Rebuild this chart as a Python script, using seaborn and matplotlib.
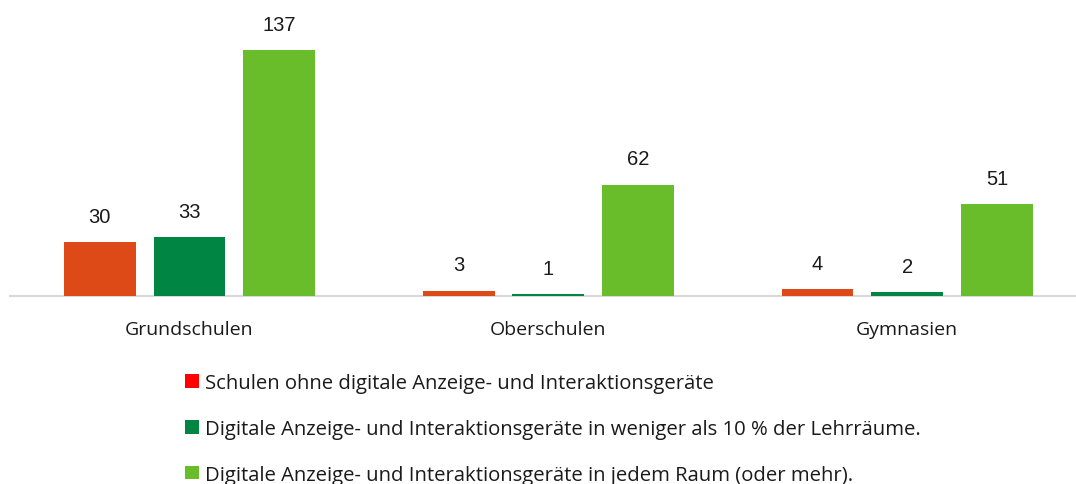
import pandas as pd
import seaborn as sns
import matplotlib.pyplot as plt
from matplotlib.patches import Patch

# DATA
schularten = ["Grundschulen", "Oberschulen", "Gymnasien"]
serien = [
    "Schulen ohne digitale Anzeige- und Interaktionsgeräte",
    "Digitale Anzeige- und Interaktionsgeräte in weniger als 10 % der Lehrräume.",
    "Digitale Anzeige- und Interaktionsgeräte in jedem Raum (oder mehr).",
]
ohne_geraete = [30, 3, 4]
unter_10_prozent = [33, 1, 2]
jeder_raum = [137, 62, 51]

bar_colors = ["#DD4A17", "#008542", "#6ABD2A"]
legend_colors = ["#FF0000", "#008542", "#6ABD2A"]

df = pd.DataFrame({
    "Schulart": schularten * 3,
    "Serie": [serien[0]] * 3 + [serien[1]] * 3 + [serien[2]] * 3,
    "Anzahl": ohne_geraete + unter_10_prozent + jeder_raum,
})

# VISUAL SETTINGS
sns.set_style("white")
plt.rcParams["font.family"] = ["Open Sans", "DejaVu Sans"]

fig = plt.figure(figsize=(10.76, 4.85), dpi=100)
ax = fig.add_axes([10 / 1076, 188 / 485, 1 - 10 / 1076, 290 / 485])

sns.barplot(
    data=df, x="Schulart", y="Anzahl", hue="Serie",
    order=schularten, hue_order=serien,
    palette=bar_colors, width=0.75, gap=0.2,
    saturation=1, legend=False, ax=ax,
)
for cont in ax.containers:
    for bar in cont:
        bar.set_zorder(3)
        bar.set_linewidth(0)

# value labels
for cont in ax.containers:
    for bar in cont:
        h = bar.get_height()
        ax.annotate(f"{h:.0f}", (bar.get_x() + bar.get_width() / 2, h),
                    xytext=(0, 18.5), textcoords="offset points",
                    ha="center", va="center", fontsize=14.5,
                    family="Liberation Sans", color="#1a1a1a")

ax.set_ylim(0, 290 / 1.796)
ax.set_xlim(-0.5, 2.47)
ax.set_xlabel("")
ax.set_ylabel("")
ax.set_yticks([])
for s in ["top", "right", "left"]:
    ax.spines[s].set_visible(False)
ax.spines["bottom"].set_color("#D9D9D9")
ax.spines["bottom"].set_linewidth(1.5)
ax.spines["bottom"].set_zorder(0.5)
ax.tick_params(axis="x", length=0, pad=17, labelsize=14, labelcolor="#1a1a1a")

handles = [Patch(facecolor=c, edgecolor="none") for c in legend_colors]
fig.legend(handles, serien, loc="upper left", bbox_to_anchor=(177 / 1076, 1 - 366 / 485),
           frameon=False, fontsize=14.6, handlelength=0.68, handleheight=0.68,
           handletextpad=0.3, labelspacing=1.27, borderaxespad=0, labelcolor="#1a1a1a")

plt.savefig("out.png", dpi=100)
